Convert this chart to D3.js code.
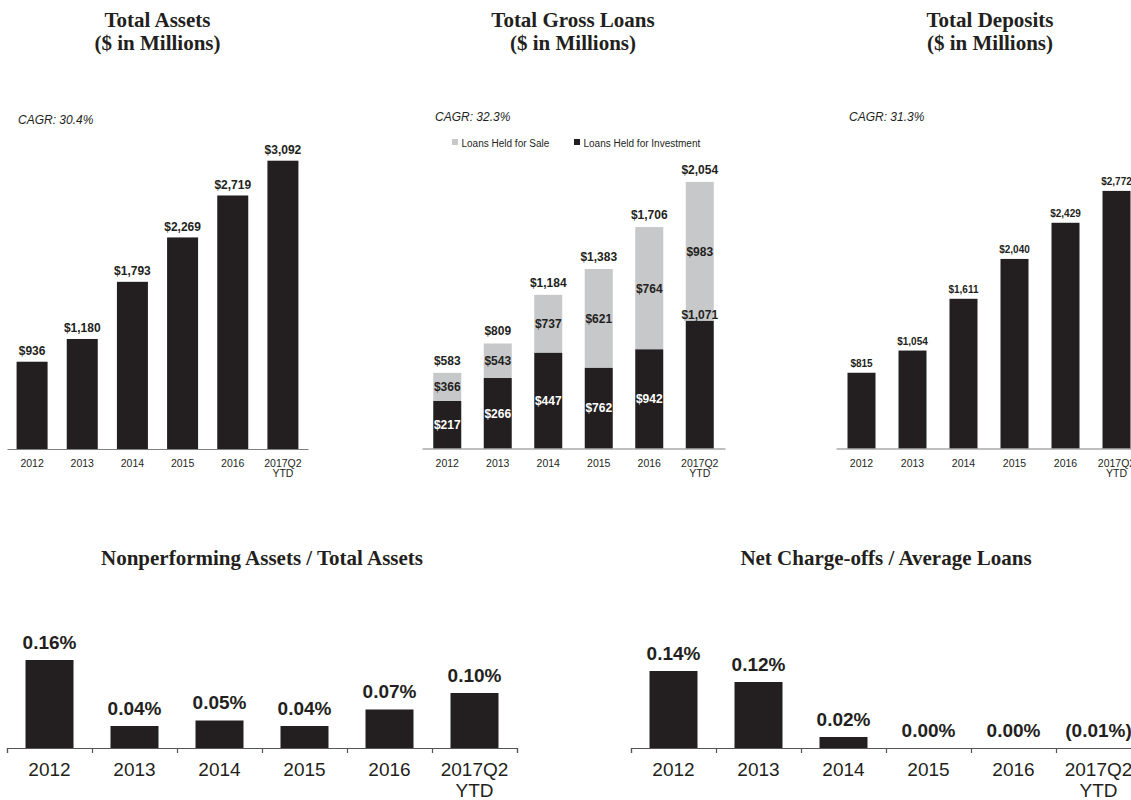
<!DOCTYPE html>
<html>
<head>
<meta charset="utf-8">
<script src="https://cdn.jsdelivr.net/npm/d3@7"></script>
<style>
  body { margin: 0; background: #fff; }
  svg { display: block; font-family: "Liberation Sans", Arial, sans-serif; }
  .title { font-family: "Liberation Serif", "Times New Roman", serif; font-weight: bold; fill: #231f20; }
  .cagr { font-style: italic; font-size: 12px; fill: #231f20; }
  .value-label { font-weight: bold; fill: #231f20; }
  .axis text { fill: #231f20; }
  .legend text { font-size: 10px; fill: #231f20; }
</style>
</head>
<body>
<div id="chart"></div>
<script>
// values
const years = ["2012", "2013", "2014", "2015", "2016", "2017Q2 YTD"];
const totalAssets = [936, 1180, 1793, 2269, 2719, 3092];
const totalGrossLoans = [583, 809, 1184, 1383, 1706, 2054];
const loansHeldForSale = [366, 543, 737, 621, 764, 983];
const loansHeldForInvestment = [217, 266, 447, 762, 942, 1071];
const totalDeposits = [815, 1054, 1611, 2040, 2429, 2772];
const npaToAssets = [0.16, 0.04, 0.05, 0.04, 0.07, 0.10];
const ncoToLoans = [0.14, 0.12, 0.02, 0.00, 0.00, -0.01];
const cagrLabels = ["CAGR: 30.4%", "CAGR: 32.3%", "CAGR: 31.3%"];
const legendKeys = ["Loans Held for Sale", "Loans Held for Investment"];

const DARK = "#231f20";
const LIGHT = "#c7c8ca";

const dollar = (v) => "$" + d3.format(",")(v);
const pct = (v) => (v < 0 ? "(" + d3.format(".2f")(-v) + "%)" : d3.format(".2f")(v) + "%");

const svg = d3
  .select("#chart")
  .append("svg")
  .attr("width", 1131)
  .attr("height", 800);

function addTitle(lines, cx, y0, size) {
  const t = svg
    .append("text")
    .attr("class", "title")
    .attr("text-anchor", "middle")
    .attr("font-size", size);
  lines.forEach((l, i) => {
    t.append("tspan").attr("x", cx).attr("y", y0 + i * 22.3).text(l);
  });
}

// band scale where bars have a fixed pixel width
function makeBand(left, right, barWidth) {
  const step = (right - left) / years.length;
  const p = 1 - barWidth / step;
  return d3
    .scaleBand()
    .domain(years)
    .range([left, right])
    .paddingInner(p)
    .paddingOuter(p / 2);
}

// category axis, the last label wraps onto two lines
function drawAxis(x, props) {
  const g = svg
    .append("g")
    .attr("class", "axis")
    .attr("transform", `translate(0,${props.baseline})`);
  g.call(d3.axisBottom(x).tickSize(0).tickPadding(props.pad).tickSizeOuter(0));
  g.select(".domain").attr("stroke", props.axisColor).attr("stroke-width", 1.2);
  g.selectAll(".tick text")
    .attr("font-size", props.fontSize)
    .attr("font-family", null)
    .attr("dy", null)
    .each(function (d) {
      const t = d3.select(this);
      t.text(null);
      d.split(" ").forEach((part, i) => {
        t.append("tspan")
          .attr("x", 0)
          .attr("dy", i ? props.lineGap : "0.71em")
          .text(part);
      });
    });

  if (props.boundaryTicks) {
    // little tick marks between the categories
    const edges = d3
      .scaleLinear()
      .domain([0, years.length])
      .range(x.range());
    const tg = svg
      .append("g")
      .attr("transform", `translate(0,${props.baseline})`)
      .call(
        d3
          .axisBottom(edges)
          .tickValues(d3.range(years.length + 1))
          .tickFormat("")
          .tickSize(5)
          .tickSizeOuter(5)
      );
    tg.select(".domain").attr("stroke", props.axisColor).attr("stroke-width", 1.2);
    tg.selectAll(".tick line").attr("stroke", props.axisColor).attr("stroke-width", 1.2);
  }
}

function simpleBars(props) {
  const x = makeBand(props.left, props.right, props.barWidth);
  const y = d3
    .scaleLinear()
    .domain([0, d3.max(props.values)])
    .range([props.baseline, props.baseline - props.plotHeight]);

  const data = props.values.map((v, i) => ({ key: years[i], v }));

  svg
    .append("g")
    .selectAll("rect")
    .data(data)
    .enter()
    .append("rect")
    .attr("x", (d) => x(d.key))
    .attr("width", x.bandwidth())
    .attr("y", (d) => y(Math.max(0, d.v)))
    .attr("height", (d) => y(0) - y(Math.max(0, d.v)))
    .attr("fill", DARK);

  svg
    .append("g")
    .selectAll("text")
    .data(data)
    .enter()
    .append("text")
    .attr("class", "value-label")
    .attr("font-size", props.labelSize)
    .attr("text-anchor", "middle")
    .attr("x", (d) => x(d.key) + x.bandwidth() / 2)
    .attr("y", (d) => y(Math.max(0, d.v)) - props.labelGap)
    .text((d) => props.format(d.v));

  drawAxis(x, props);
}

// ---- Total Assets ----
addTitle(["Total Assets", "($ in Millions)"], 157.5, 27.3, 21);
svg.append("text").attr("class", "cagr").attr("x", 18).attr("y", 124).text(cagrLabels[0]);
simpleBars({
  values: totalAssets,
  left: 7,
  right: 308,
  baseline: 449,
  plotHeight: 288.3,
  barWidth: 31,
  labelSize: 12,
  labelGap: 6.5,
  format: dollar,
  fontSize: 10.5,
  pad: 11,
  lineGap: 10,
  axisColor: "#808080",
});

// ---- Total Gross Loans (stacked) ----
addTitle(["Total Gross Loans", "($ in Millions)"], 573, 27.3, 21);
svg.append("text").attr("class", "cagr").attr("x", 435).attr("y", 121).text(cagrLabels[1]);
(function stackedLoans() {
  const baseline = 448.5;
  const x = makeBand(422, 725, 28);
  const y = d3
    .scaleLinear()
    .domain([0, d3.max(totalGrossLoans)])
    .range([baseline, baseline - 266.6]);

  // note: the source slide draws the dark segment at the held-for-sale amount,
  // while the labels sit in the segment of their colour; kept as drawn
  const data = years.map((k, i) => ({
    key: k,
    sale: loansHeldForSale[i],
    invest: loansHeldForInvestment[i],
    total: totalGrossLoans[i],
  }));

  const g = svg.append("g");
  const bar = g.selectAll(".stack").data(data).enter().append("g").attr("class", "stack");

  bar
    .append("rect")
    .attr("x", (d) => x(d.key))
    .attr("width", x.bandwidth())
    .attr("y", (d) => y(d.total))
    .attr("height", (d) => y(d.sale) - y(d.total))
    .attr("fill", LIGHT);
  bar
    .append("rect")
    .attr("x", (d) => x(d.key))
    .attr("width", x.bandwidth())
    .attr("y", (d) => y(d.sale))
    .attr("height", (d) => y(0) - y(d.sale))
    .attr("fill", DARK);

  const cx = (d) => x(d.key) + x.bandwidth() / 2;
  bar
    .append("text")
    .attr("class", "value-label")
    .attr("font-size", 12)
    .attr("text-anchor", "middle")
    .attr("x", cx)
    .attr("y", (d) => y(d.total) - 8)
    .text((d) => dollar(d.total));
  bar
    .append("text")
    .attr("class", "value-label")
    .attr("font-size", 12)
    .attr("text-anchor", "middle")
    .attr("x", cx)
    .attr("y", (d) => (y(d.total) + y(d.sale)) / 2 + 4.3)
    .text((d) => dollar(d.sale));

  // dark-segment labels: white inside the bar, but when the label is wider
  // than the bar it sits on the segment's top edge in dark text
  bar
    .append("text")
    .attr("class", "value-label")
    .attr("font-size", 12)
    .attr("text-anchor", "middle")
    .attr("x", cx)
    .text((d) => dollar(d.invest))
    .each(function (d) {
      const t = d3.select(this);
      const fits = this.getComputedTextLength() <= x.bandwidth() + 2;
      if (fits) {
        t.attr("y", (y(d.sale) + y(0)) / 2 + 4.3).style("fill", "#fff");
      } else {
        t.attr("y", y(d.sale) - 1.5);
      }
    });

  drawAxis(x, { baseline, fontSize: 10.5, pad: 11, lineGap: 10, axisColor: "#808080" });

  // legend
  const legend = svg.append("g").attr("class", "legend");
  const legendX = [452, 574];
  const legendColor = [LIGHT, DARK];
  const item = legend
    .selectAll(".legend-item")
    .data(legendKeys)
    .enter()
    .append("g")
    .attr("class", "legend-item")
    .attr("transform", (d, i) => `translate(${legendX[i]},139)`);
  item
    .append("rect")
    .attr("width", 6)
    .attr("height", 6)
    .attr("fill", (d, i) => legendColor[i]);
  item
    .append("text")
    .attr("x", 9.5)
    .attr("y", 7.5)
    .text((d) => d);
})();

// ---- Total Deposits ----
addTitle(["Total Deposits", "($ in Millions)"], 990, 27.3, 21);
svg.append("text").attr("class", "cagr").attr("x", 849).attr("y", 121).text(cagrLabels[2]);
simpleBars({
  values: totalDeposits,
  left: 836,
  right: 1142,
  baseline: 448.5,
  plotHeight: 257.6,
  barWidth: 28,
  labelSize: 10,
  labelGap: 6,
  format: dollar,
  fontSize: 10.5,
  pad: 11,
  lineGap: 10,
  axisColor: "#808080",
});

// ---- Nonperforming Assets / Total Assets ----
addTitle(["Nonperforming Assets / Total Assets"], 262, 565, 21);
simpleBars({
  values: npaToAssets,
  left: 7,
  right: 517,
  baseline: 748,
  plotHeight: 88,
  barWidth: 48,
  labelSize: 19,
  labelGap: 11.5,
  format: pct,
  fontSize: 19,
  pad: 15,
  lineGap: 20.5,
  axisColor: "#555",
  boundaryTicks: true,
});

// ---- Net Charge-offs / Average Loans ----
addTitle(["Net Charge-offs / Average Loans"], 886, 565, 21);
simpleBars({
  values: ncoToLoans,
  left: 631,
  right: 1141,
  baseline: 748,
  plotHeight: 77,
  barWidth: 48,
  labelSize: 19,
  labelGap: 11.5,
  format: pct,
  fontSize: 19,
  pad: 15,
  lineGap: 20.5,
  axisColor: "#555",
  boundaryTicks: true,
});
</script>
</body>
</html>
